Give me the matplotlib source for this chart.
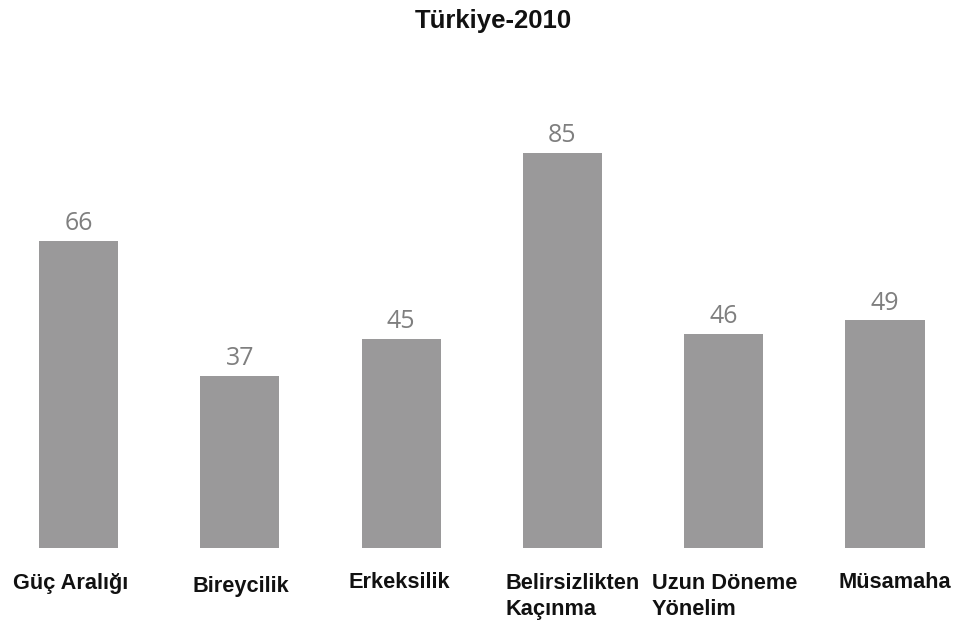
import matplotlib.pyplot as plt

# values
categories = ['Güç Aralığı', 'Bireycilik', 'Erkeksilik',
              'Belirsizlikten\nKaçınma', 'Uzun Döneme\nYönelim', 'Müsamaha']
values = [66, 37, 45, 85, 46, 49]

W, H = 957, 625
fig = plt.figure(figsize=(W / 100, H / 100), dpi=100)

# axes spans the full width, bottom edge at the bars' baseline
ax = fig.add_axes([0, (H - 548) / H, 1, 548 / H])
x = list(range(len(values)))
ax.bar(x, values, width=0.49, color='#9a999a')
ax.set_xlim(-78.5 / 161.3, (W - 78.5) / 161.3)
ax.set_ylim(0, 548 / 4.65)
ax.axis('off')

for xi, v in zip(x, values):
    ax.text(xi, v + 1.0, str(v), ha='center', va='bottom',
            fontsize=18, color='#7f7f7f', family='Open Sans')

# category labels sit at uneven spots under the bars (pixel positions)
label_x = [13, 192, 348, 505, 652, 838]
label_base = [589, 592, 588, 589, 589, 588]
for lab, lx, ly in zip(categories, label_x, label_base):
    fig.text(lx / W, (H - ly) / H, lab.split('\n')[0], ha='left', va='baseline',
             fontsize=15.7, fontweight='bold', family='Liberation Sans', color='#111111')
    if '\n' in lab:
        fig.text(lx / W, (H - ly - 26) / H, lab.split('\n')[1], ha='left', va='baseline',
                 fontsize=15.7, fontweight='bold', family='Liberation Sans', color='#111111')

fig.text(493 / W, (H - 28) / H, 'Türkiye-2010', ha='center', va='baseline',
         fontsize=18.5, fontweight='bold', family='Liberation Sans', color='#111111')

fig.savefig('out.png', dpi=100)
